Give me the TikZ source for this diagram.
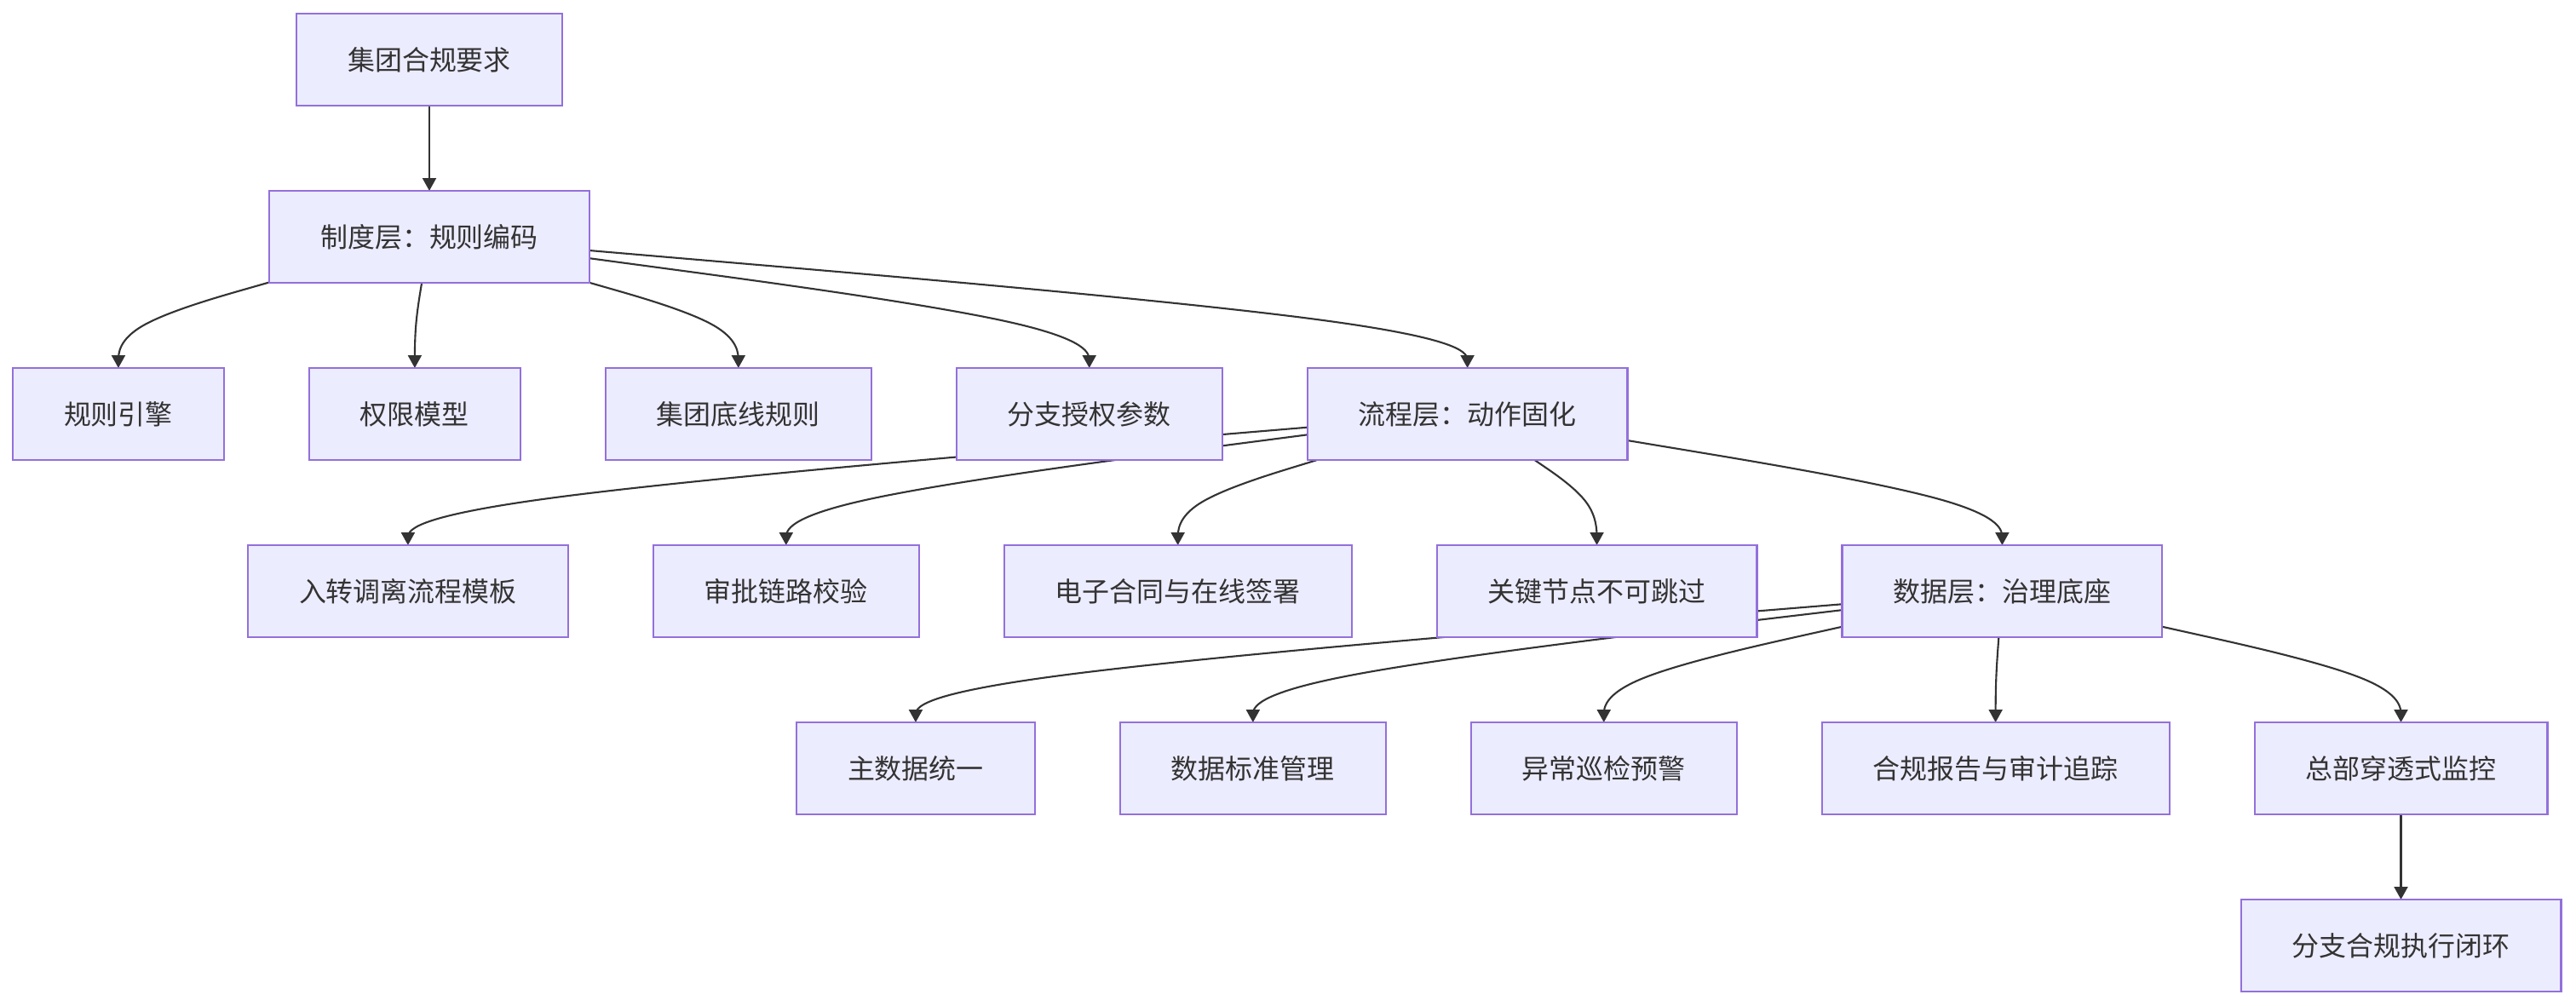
\documentclass[tikz,border=0pt]{standalone}
\usepackage{fontspec}
\setmainfont{Noto Sans CJK SC}
\usepackage{tikz}
\usetikzlibrary{arrows.meta,positioning,calc,backgrounds}
\definecolor{nodefill}{HTML}{ECECFF}
\definecolor{nodeline}{HTML}{9370DB}
\definecolor{inkgray}{HTML}{333333}
\tikzset{
    box/.style={rectangle,draw=nodeline,line width=0.6pt,fill=nodefill,text=inkgray,
                inner xsep=0.6cm,inner ysep=0pt,outer sep=0pt,minimum height=1.08cm,
                font=\fontsize{9.1pt}{11pt}\selectfont},
    arrow/.style={-{Triangle[length=0.15cm,width=0.16cm]},line width=0.6pt,draw=inkgray},
}
% 曲线连线: 源 -> 目标顶部
\newcommand{\flowedge}[2]{%
    \coordinate (t) at (#2.north);
    \coordinate (d) at ($(#2.north)+(0,0.5)$);
    \path (d) -- (#1) coordinate[pos=1] (s);
    \coordinate (m1) at ($(s)!2/3!(d)$);
    \coordinate (m2) at ($(d)!1/3!(t)$);
    \draw[arrow] (s) -- ($(s)!1/6!(d)$) .. controls ($(s)!1/3!(d)$) and (m1)
        .. ($(m1)!0.5!(m2)$) .. controls (m2) and ($(d)!2/3!(t)$)
        .. ($(d)!5/6!(t)$) -- (t);
}

\begin{document}
\begin{tikzpicture}[node distance=1cm]
    \useasboundingbox (0,0) rectangle (30.24,-11.8);

    % ---- 顶层 ----
    \node[box] (req) at (5.04,-0.7) {集团合规要求};
    \node[box, below=of req] (inst) {制度层：规则编码};

    % ---- 制度层 ----
    \node[box, anchor=north west] (engine) at (0.15,-4.32) {规则引擎};
    \node[box, right=of engine] (perm)     {权限模型};
    \node[box, right=of perm] (baseline)   {集团底线规则};
    \node[box, right=of baseline] (auth)   {分支授权参数};
    \node[box, right=of auth] (proc)       {流程层：动作固化};

    % ---- 流程层 ----
    \node[box, anchor=north west] (onboard) at (2.91,-6.40) {入转调离流程模板};
    \node[box, right=of onboard] (approve)  {审批链路校验};
    \node[box, right=of approve] (esign)    {电子合同与在线签署};
    \node[box, right=of esign] (keynode)    {关键节点不可跳过};
    \node[box, right=of keynode] (data)     {数据层：治理底座};

    % ---- 数据层 ----
    \node[box, anchor=north west] (master) at (9.35,-8.48) {主数据统一};
    \node[box, right=of master] (stdmgmt)  {数据标准管理};
    \node[box, right=of stdmgmt] (patrol)  {异常巡检预警};
    \node[box, right=of patrol] (audit)    {合规报告与审计追踪};
    \node[box, right=of audit] (monitor)   {总部穿透式监控};
    \node[box, below=of monitor] (loop)    {分支合规执行闭环};

    % ---- 连线 ----
    \begin{scope}[on background layer]
        \draw[arrow] (req) -- (inst);
        \flowedge{inst}{engine}
        \flowedge{inst}{perm}
        \flowedge{inst}{baseline}
        \flowedge{inst}{auth}
        \flowedge{inst}{proc}
        \flowedge{proc}{onboard}
        \flowedge{proc}{approve}
        \flowedge{proc}{esign}
        \flowedge{proc}{keynode}
        \flowedge{proc}{data}
        \flowedge{data}{master}
        \flowedge{data}{stdmgmt}
        \flowedge{data}{patrol}
        \flowedge{data}{audit}
        \flowedge{data}{monitor}
        \draw[arrow] (monitor) -- (loop);
    \end{scope}

\end{tikzpicture}
\end{document}
